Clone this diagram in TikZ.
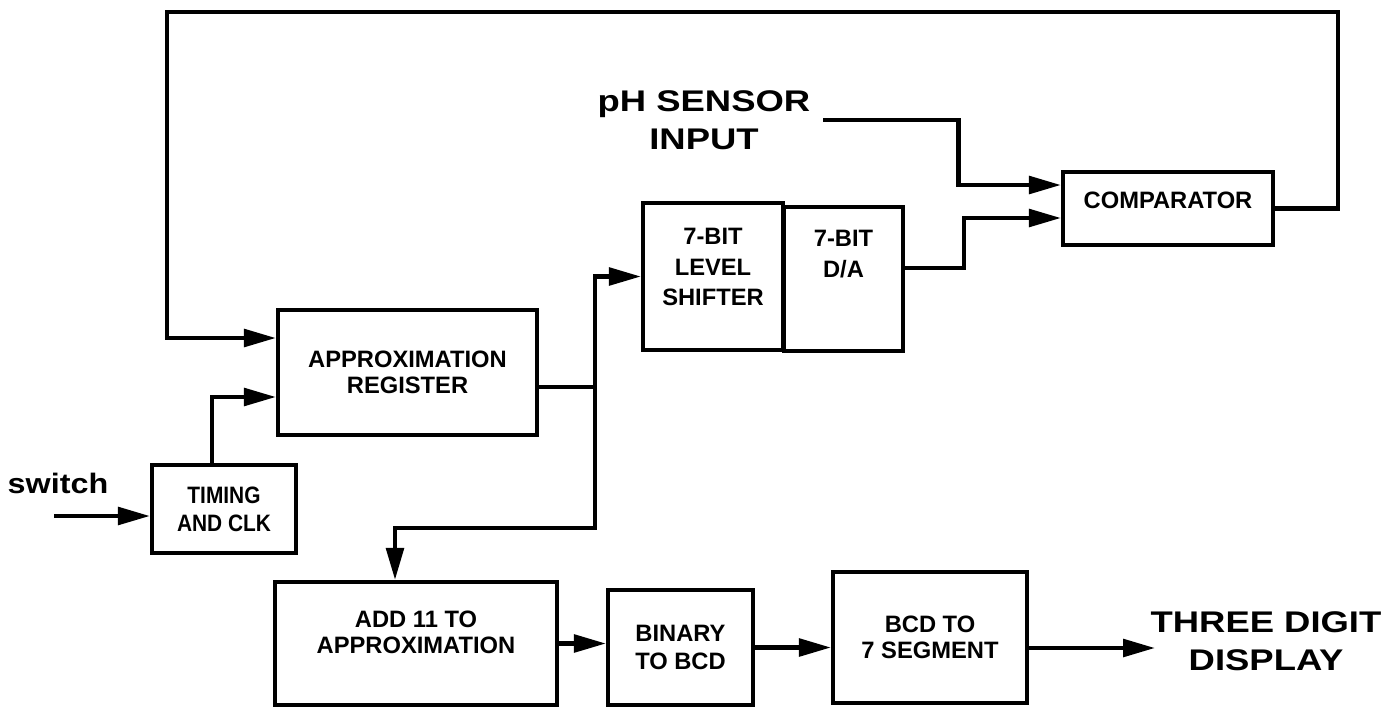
\documentclass[tikz,border=0pt]{standalone}
\usepackage{fontspec}
\setmainfont{Liberation Sans}
\newfontfamily\widefont[FakeStretch=1.22]{Liberation Sans}
\newfontfamily\swfont[FakeStretch=1.15]{Liberation Sans}
\newfontfamily\narrowfont[FakeStretch=0.88]{Liberation Sans}
\usetikzlibrary{arrows.meta}

\begin{document}
\begin{tikzpicture}[x=0.02cm, y=-0.02cm,
  blk/.style={draw, line width=2.4pt, align=center, inner sep=0pt,
    font=\bfseries\fontsize{13.5}{15}\selectfont},
  wire/.style={line width=2.4pt, line cap=rect},
  arr/.style={wire, -{Triangle[length=0.64cm, width=0.35cm]}},
  bigtext/.style={align=center, font=\widefont\bfseries\fontsize{17}{21.5}\selectfont}]
\useasboundingbox (0,0) rectangle (1400,707);

% Top row
\node[blk, minimum width=5.18cm, minimum height=2.5cm] (appr) at (407.5,372.5) {APPROXIMATION\\REGISTER};
\node[blk, minimum width=2.88cm, minimum height=1.76cm,
  font=\narrowfont\bfseries\fontsize{13.5}{16}\selectfont] (tim) at (224,509) {TIMING\\AND CLK};
\node[blk, minimum width=2.8cm, minimum height=2.94cm, text depth=11pt,
  font=\bfseries\fontsize{13.5}{17.5}\selectfont] (lvl) at (713,276.5) {7-BIT\\LEVEL\\SHIFTER};
\node[blk, minimum width=2.38cm, minimum height=2.88cm, text depth=11pt,
  font=\bfseries\fontsize{13.5}{17.5}\selectfont] (da) at (843.5,279) {7-BIT\\D/A\\\mbox{}};
\node[blk, minimum width=4.2cm, minimum height=1.46cm, text depth=9.6pt] (cmp) at (1168,208.5) {COMPARATOR};

% Bottom row
\node[blk, minimum width=5.64cm, minimum height=2.46cm, text depth=12.5pt] (add) at (416,643.5) {ADD 11 TO\\APPROXIMATION};
\node[blk, minimum width=2.9cm, minimum height=2.3cm,
  font=\bfseries\fontsize{13.5}{16}\selectfont] (bin) at (680.5,647.5) {BINARY\\TO BCD};
\node[blk, minimum width=3.88cm, minimum height=2.62cm] (seg) at (930,637.5) {BCD TO\\7 SEGMENT};

% Labels
\node[bigtext] (ph) at (704,120) {pH SENSOR\\INPUT};
\node[bigtext] (disp) at (1266,641) {THREE DIGIT\\DISPLAY};
\node[font=\swfont\bfseries\fontsize{16}{18}\selectfont, inner sep=0pt] (sw) at (58,483) {switch};

\coordinate (fbR) at (1338,12);
\coordinate (fbL) at (167,12);
\coordinate (bus) at (595,528);
\coordinate (swin) at (56,516);
\coordinate (dispin) at (1155,648);

% Feedback loop
\draw[arr] (cmp.east) -| (fbR) -- (fbL) |- ([yshift=0.69cm]appr.west);
\draw[arr] ([xshift=-0.24cm]tim.north) |- ([yshift=-0.49cm]appr.west);
\draw[arr] (swin) -- (swin -| tim.west);

% Register out
\draw[wire] ([yshift=-0.29cm]appr.east) -| (bus);
\draw[arr] (bus) |- (lvl.west);
\draw[arr] (bus) -| ([xshift=-0.42cm]add.north);

% Comparator inputs
\draw[arr] ([xshift=0.18cm]ph.east) -- ++(133,0) |- ([yshift=0.47cm]cmp.west);
\draw[arr] ([yshift=0.22cm]da.east) -- ++(59,0) |- ([yshift=-0.19cm]cmp.west);

% Display chain
\draw[arr] (add.east) -- (add.east -| bin.west);
\draw[arr] (bin.east) -- (bin.east -| seg.west);
\draw[arr] (dispin -| seg.east) -- (dispin);
\end{tikzpicture}
\end{document}
